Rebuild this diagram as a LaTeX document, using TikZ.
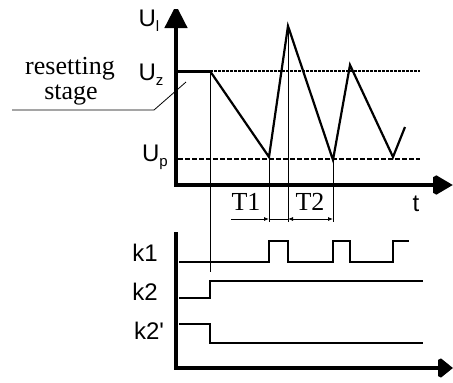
\documentclass[tikz,border=0pt]{standalone}
\usepackage{fontspec}
\setmainfont{Liberation Serif}
\setsansfont{Liberation Sans}
\usetikzlibrary{arrows.meta}

\newcommand{\lbl}[2]{\sffamily\fontsize{24}{24}\selectfont #1\raisebox{-5pt}{\fontsize{15}{15}\selectfont #2}}

\begin{document}
\begin{tikzpicture}[x=1pt, y=-1pt,
    axis/.style={line width=4.5pt, miter limit=2},
    wave/.style={line width=2.2pt, line join=miter},
    sig/.style={line width=1.6pt},
    guide/.style={line width=0.8pt},
    sans/.style={font=\sffamily\fontsize{24}{24}\selectfont},
    serif/.style={font=\fontsize{26}{26}\selectfont, inner sep=0pt}]
    \useasboundingbox (0,0) rectangle (453,383);

    % upper axes
    \coordinate (o1) at (176,185);
    \coordinate (yt) at (176,5);
    \coordinate (xt) at (453,185);
    \draw [axis, {Triangle[length=23pt,width=22pt]}-{Triangle[length=20pt,width=22pt]}] (yt) -- (o1) -- (xt);

    % levels
    \draw [line width=2.5pt, dash pattern=on 3pt off 1pt] (210,71) -- (420,71);
    \draw [line width=2.2pt, dash pattern=on 5pt off 2pt] (178,159) -- (420,159);
    \draw [line width=3pt] (176,71) -- (210,71);

    % voltage
    \coordinate (w0) at (210,71);
    \coordinate (w1) at (269,157);
    \coordinate (w2) at (288,26);
    \coordinate (w3) at (333,160);
    \coordinate (w4) at (350,65);
    \coordinate (w5) at (393,157);
    \coordinate (w6) at (405,127);
    \draw [wave] (w0) -- (w1) -- (w2) -- (w3) -- (w4) -- (w5) -- (w6);

    % guides
    \draw [guide] (w0) -- (210,272);
    \draw [guide] (w1) -- (269,222);
    \draw [guide] (w2) -- (288,222);
    \draw [guide] (w3) -- (333,222);

    % periods
    \draw [guide, -{Latex[length=5pt,width=4pt]}] (231,219) -- (269,219);
    \draw [guide] (269,219) -- (288,219);
    \draw [guide, {Latex[length=5pt,width=4pt]}-{Latex[length=5pt,width=4pt]}] (288,219) -- (333,219);
    \node[serif] (t1) at (246,202) {T1};
    \node[serif] (t2) at (310,202) {T2};
    \node[sans] (tt) at (416,204) {t};

    % labels
    \node (ul) at (149,21) {\lbl{U}{l}};
    \node (uz) at (151,75) {\lbl{U}{z}};
    \node (up) at (155,157) {\lbl{U}{p}};
    \node[serif] (rs1) at (70,69) {resetting};
    \node[serif] (rs2) at (71,95) {stage};
    \draw [guide] (12,110) -- (154,110) -- (186,82);

    % lower axes
    \coordinate (o2) at (176,368);
    \draw [axis, -{Triangle[length=15pt,width=23pt]}] (176,232) -- (o2) -- (453,368);

    % switches
    \draw [sig] (179,262) -- (269,262) -- (269,241) -- (288,241) -- (288,262) -- (333,262)
        -- (333,241) -- (350,241) -- (350,262) -- (393,262) -- (393,241) -- (409,241);
    \draw [sig] (179,298) -- (210,298) -- (210,281) -- (423,281);
    \draw [sig] (179,324) -- (210,324) -- (210,343) -- (423,343);
    \node[sans] (k1) at (145,253) {k1};
    \node[sans] (k2) at (145,292) {k2};
    \node[sans] (k2p) at (149,331) {k2\textquotesingle};
\end{tikzpicture}
\end{document}
